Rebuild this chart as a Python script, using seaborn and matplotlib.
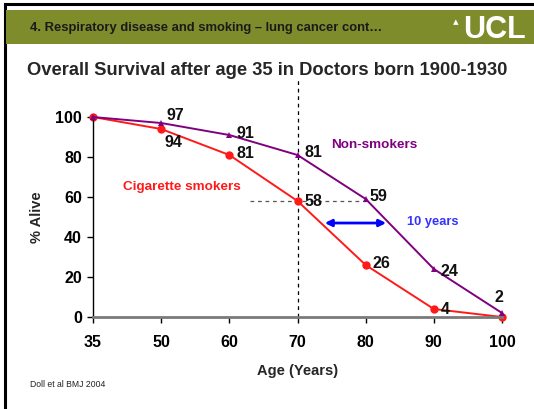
"""Overall survival after age 35, doctors born 1900-1930 (Doll et al BMJ 2004)."""
import matplotlib
matplotlib.use("Agg")
import matplotlib.pyplot as plt
from matplotlib.patches import Rectangle
import numpy as np
import pandas as pd
import seaborn as sns

ages = ["35", "50", "60", "70", "80", "90", "100"]
smokers = [100, 94, 81, 58, 26, 4, 0]
non_smokers = [100, 97, 91, 81, 59, 24, 2]
smoker_labels = ["", "94", "81", "58", "26", "4", ""]
non_smoker_labels = ["", "97", "91", "81", "59", "24", "2"]
y_ticks = [0, 20, 40, 60, 80, 100]

RED = "#ff1a1a"
PURPLE = "#800080"
BLUE = "#3333ff"

sns.set_style("white")
plt.rcParams["font.family"] = ["Liberation Sans", "DejaVu Sans"]

pos = np.arange(len(ages))
df = pd.DataFrame({
    "pos": np.concatenate([pos, pos]),
    "alive": smokers + non_smokers,
    "group": ["Cigarette smokers"] * len(ages) + ["Non-smokers"] * len(ages),
})

fig = plt.figure(figsize=(5.34, 4.09), dpi=100)

# slide frame + header band
fig.patches.append(Rectangle((0.009, -0.01), 1.0, 1.0, transform=fig.transFigure,
                             fill=False, edgecolor="black", linewidth=2.2))
fig.patches.append(Rectangle((0.011, 0.893), 0.989, 0.082, transform=fig.transFigure,
                             facecolor="#7f8c2c", edgecolor="none"))
fig.text(0.056, 0.932, "4. Respiratory disease and smoking \u2013 lung cancer cont\u2026",
         fontsize=9.4, fontweight="bold", color="#1a1a1a", va="center")
fig.text(0.985, 0.926, "UCL", fontsize=22, fontweight="bold", color="white",
         va="center", ha="right")
fig.text(0.853, 0.945, "\u25b4", fontsize=8, color="white", va="center", ha="center")
fig.text(0.50, 0.827, "Overall Survival after age 35 in Doctors born 1900-1930",
         fontsize=13.2, fontweight="bold", ha="center", va="center")
fig.text(0.056, 0.055, "Doll et al BMJ 2004", fontsize=6.2, color="#222222")

ax = fig.add_axes([0.1742, 0.2249, 0.7659, 0.489])
sns.lineplot(data=df, x="pos", y="alive", hue="group", style="group",
             palette={"Cigarette smokers": RED, "Non-smokers": PURPLE},
             markers={"Cigarette smokers": "o", "Non-smokers": "^"},
             dashes=False, markersize=6, markeredgewidth=0, linewidth=1.4,
             legend=False, ax=ax, clip_on=False)
for line in ax.lines:
    if line.get_color() == PURPLE:
        line.set_markersize(5)
        line.set_zorder(3)
    else:
        line.set_zorder(2)

ax.set_xlim(0, len(ages) - 1)
ax.set_ylim(0, 100)
ax.set_xticks(pos)
ax.set_xticklabels(ages)
ax.set_yticks(y_ticks)
ax.tick_params(axis="both", labelsize=11.5, length=4, width=1, direction="out",
               bottom=True, left=True, colors="black", pad=4)
ax.tick_params(axis="x", pad=9)
for t in ax.get_xticklabels() + ax.get_yticklabels():
    t.set_fontweight("bold")
sns.despine(ax=ax, top=True, right=True)
ax.spines["left"].set_color("black")
ax.spines["left"].set_linewidth(1.0)
ax.spines["bottom"].set_color("#7a7a7a")
ax.spines["bottom"].set_linewidth(2.0)
ax.set_xlabel("Age (Years)", fontsize=10.5, fontweight="bold", labelpad=10)
ax.set_ylabel("% Alive", fontsize=10.5, fontweight="bold", labelpad=8)

# reference lines: 70 years vertical, 58% horizontal
ax.plot([3, 3], [0, 118.5], color="black", linestyle=(0, (3, 3)), linewidth=0.9,
        clip_on=False, zorder=1)
ax.plot([2.3, 4], [smokers[3], smokers[3]], color="#555555", linestyle=(0, (3, 3)),
        linewidth=0.9, zorder=1)
ax.annotate("", xy=(3.4, 47), xytext=(4.3, 47),
            arrowprops=dict(arrowstyle="<|-|>", color="blue", lw=2,
                            mutation_scale=10, shrinkA=0, shrinkB=0))
ax.text(4.6, 47.5, "10 years", color=BLUE, fontsize=9.3, fontweight="bold",
        va="center", ha="left")
ax.text(4.13, 86, "Non-smokers", color=PURPLE, fontsize=9.7, fontweight="bold",
        va="center", ha="center")
ax.text(1.3, 65, "Cigarette smokers", color=RED, fontsize=9.7, fontweight="bold",
        va="center", ha="center")

# value labels
lab_kw = dict(fontsize=11.5, fontweight="bold", color="#111111")
smoker_off = {1: (0.05, -6.5, "left"), 2: (0.1, 1, "left"), 3: (0.1, 0, "left"),
              4: (0.1, 1, "left"), 5: (0.1, 0, "left")}
non_off = {1: (0.08, 4, "left"), 2: (0.1, 1, "left"), 3: (0.1, 1.5, "left"),
           4: (0.05, 1.5, "left"), 5: (0.1, -1, "left"), 6: (-0.05, 8, "center")}
for i, txt in enumerate(smoker_labels):
    if txt:
        dx, dy, ha = smoker_off[i]
        ax.text(pos[i] + dx, smokers[i] + dy, txt, ha=ha, va="center", **lab_kw)
for i, txt in enumerate(non_smoker_labels):
    if txt:
        dx, dy, ha = non_off[i]
        ax.text(pos[i] + dx, non_smokers[i] + dy, txt, ha=ha, va="center", **lab_kw)

fig.savefig("out.png", dpi=100)
